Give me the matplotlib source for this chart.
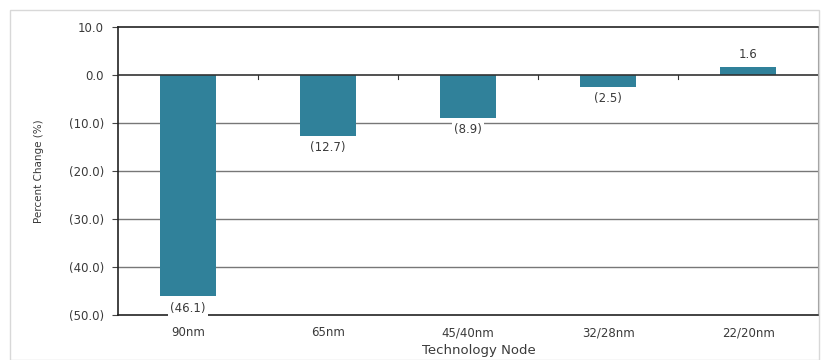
import matplotlib
matplotlib.use('Agg')
import matplotlib.pyplot as plt
from matplotlib.patches import Rectangle

nodes = ['90nm', '65nm', '45/40nm', '32/28nm', '22/20nm']
change = [-46.1, -12.7, -8.9, -2.5, 1.6]
yticks = [10, 0, -10, -20, -30, -40, -50]


def fmt(v):
    if v < 0:
        return '({:.1f})'.format(-v)
    return '{:.1f}'.format(v)


plt.rcParams['font.family'] = ['DejaVu Sans']
txt = '#3a3a3a'

fig = plt.figure(figsize=(8.3, 3.6), dpi=100)
fig.patches.append(Rectangle((0.012, 0.0), 0.975, 0.972, transform=fig.transFigure,
                             fill=False, edgecolor='#d8d8d8', linewidth=1))
ax = fig.add_axes([0.142, 0.125, 0.844, 0.8])

x = list(range(len(nodes)))
ax.bar(x, change, width=0.4, color='#30819a', zorder=2)
ax.set_xlim(-0.5, len(nodes) - 0.5)
ax.set_ylim(-50, 10)
ax.set_yticks(yticks)
ax.set_yticklabels([fmt(v) for v in yticks], fontsize=8.5, color=txt)
ax.set_xticks(x)
ax.set_xticklabels(nodes, fontsize=8.5, color=txt)
ax.tick_params(axis='x', length=0, pad=8)
ax.tick_params(axis='y', length=4, color='#444444', pad=6)

for v in [-10, -20, -30, -40]:
    ax.axhline(v, color='#777777', linewidth=1, zorder=1)
ax.axhline(0, color='#333333', linewidth=1.2, zorder=3)
# small tick marks on the zero line between categories
for b in [0.5, 1.5, 2.5, 3.5]:
    ax.plot([b, b], [0, -0.8], color='#333333', linewidth=0.8, zorder=3)

for i, v in enumerate(change):
    if v < 0:
        ax.text(i, v - 1.1, fmt(v), ha='center', va='top', fontsize=8.5, color=txt,
                bbox=dict(facecolor='white', edgecolor='none', pad=1.5), zorder=4)
    else:
        ax.text(i, v + 1.3, fmt(v), ha='center', va='bottom', fontsize=8.5, color=txt,
                zorder=4)

for s in ['top', 'left', 'bottom']:
    ax.spines[s].set_color('#222222')
    ax.spines[s].set_linewidth(1.2)
ax.spines['right'].set_color('#999999')

ax.set_ylabel('Percent Change (%)', fontsize=7.5, color=txt, labelpad=18)
ax.set_xlabel('Technology Node', fontsize=9.5, color=txt)
ax.xaxis.set_label_coords(0.515, -0.102)

fig.savefig('out.png', dpi=100)
